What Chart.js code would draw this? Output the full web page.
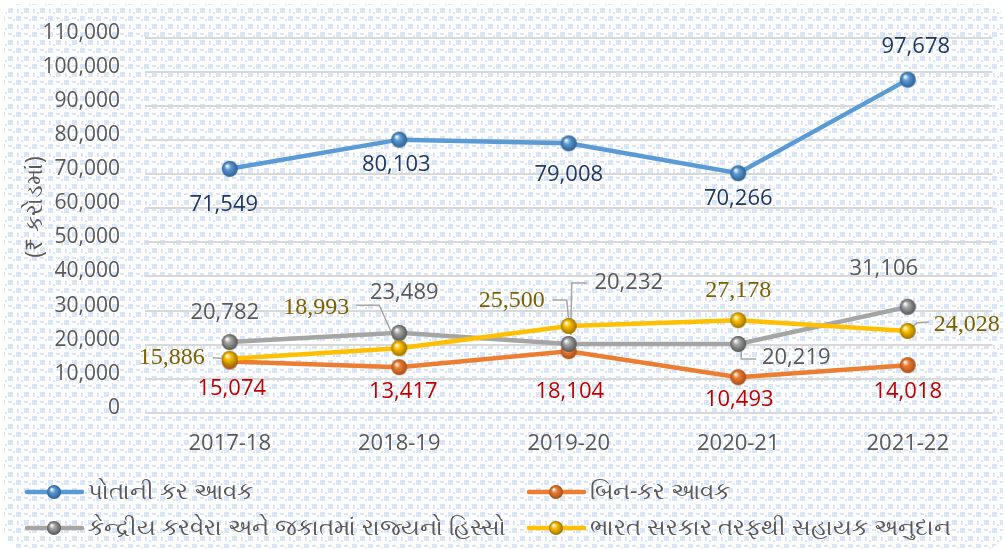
<!DOCTYPE html>
<html><head><meta charset="utf-8">
<script src="https://cdn.jsdelivr.net/npm/chart.js@4.4.0/dist/chart.umd.min.js"></script>
<style>html,body{margin:0;padding:0;background:#fff}#wrap{width:1005px;height:550px;position:relative}</style>
</head><body><div id="wrap"><canvas id="c" width="1005" height="550"></canvas></div>
<script>
const categories = ['2017-18', '2018-19', '2019-20', '2020-21', '2021-22'];
const ownTaxRevenue = [71549, 80103, 79008, 70266, 97678];
const nonTaxRevenue = [15074, 13417, 18104, 10493, 14018];
const centralTaxShare = [20782, 23489, 20232, 20219, 31106];
const centralGrants = [15886, 18993, 25500, 27178, 24028];
const seriesNames = ['પોતાની કર આવક', 'બિન-કર આવક', 'કેન્દ્રીય કરવેરા અને જકાતમાં રાજ્યનો હિસ્સો', 'ભારત સરકાર તરફથી સહાયક અનુદાન'];
const yMin = 0, yMax = 110000, yStep = 10000;
const yTitle = '(₹ કરોડમાં)';

const SANS = '"Open Sans", "Noto Sans", sans-serif';
const SERIF = '"Liberation Serif", "DejaVu Serif", serif';

function sphere(color, dark, r) {
  const s = r * 2 + 2;
  const c = document.createElement('canvas');
  c.width = c.height = s;
  const x = c.getContext('2d');
  const g = x.createRadialGradient(s / 2 - r * 0.35, s / 2 - r * 0.4, r * 0.05, s / 2, s / 2, r);
  g.addColorStop(0, '#ffffff');
  g.addColorStop(0.35, color);
  g.addColorStop(1, dark);
  x.fillStyle = g;
  x.beginPath(); x.arc(s / 2, s / 2, r, 0, Math.PI * 2); x.fill();
  return c;
}

const palette = [
  { line: '#5b9bd5', dark: '#2e5f8f', label: '#1f3864', font: SANS, size: 22 },
  { line: '#ed7d31', dark: '#a5501a', label: '#c00000', font: SANS, size: 22 },
  { line: '#a5a5a5', dark: '#555555', label: '#595959', font: SANS, size: 22 },
  { line: '#ffc000', dark: '#9a7300', label: '#7f6000', font: SERIF, size: 24 }
];
const seriesData = [ownTaxRevenue, nonTaxRevenue, centralTaxShare, centralGrants];
const drawOrder = [3, 2, 1, 0];

const datasets = seriesData.map((d, i) => ({
  label: seriesNames[i],
  data: d,
  borderColor: palette[i].line,
  backgroundColor: palette[i].line,
  borderWidth: 4.5,
  pointStyle: sphere(palette[i].line, palette[i].dark, 8),
  pointRadius: 8,
  tension: 0,
  order: drawOrder[i]
}));

// label placement (offsets from each point) and leader lines
const labelCfg = [
  { offsets: [[-6, 36], [-3, 25], [0, 31], [0, 26], [8, -33]], leaders: {} },
  { offsets: [[2, 27], [4, 25], [1, 41], [1, 23], [0, 27]], leaders: {} },
  { offsets: [[-5, -29], [5, -40], [60, -61], [58, 14], [-24, -38]],
    leaders: { 2: [[18, -61], [3, -61], [2, -9]], 3: [[3, 5], [3, 15], [18, 15]] } },
  { offsets: [[-58, -1], [-83, -40], [-57, -25], [0, -30], [59, -6]],
    leaders: { 0: [[-17, -1], [-4, 0]], 1: [[-43, -43], [-20, -43], [-3, -5]], 2: [[-16, -26], [-2, -26], [0, -5]], 4: [[2, -1], [9, -8], [21, -9]] } }
];

const backgroundPlugin = {
  id: 'bgPattern',
  beforeDraw(chart) {
    const ctx = chart.ctx;
    const t = document.createElement('canvas');
    t.width = 16; t.height = 16;
    const tc = t.getContext('2d');
    tc.fillStyle = '#ffffff'; tc.fillRect(0, 0, 16, 16);
    tc.fillStyle = '#dbe6f4';
    tc.fillRect(0, 0, 5, 5); tc.fillRect(8, 8, 5, 5);
    tc.fillRect(8, 1, 4, 2); tc.fillRect(1, 9, 2, 4);
    tc.fillRect(13, 3, 2, 2); tc.fillRect(5, 12, 2, 2);
    ctx.save();
    ctx.fillStyle = '#ffffff';
    ctx.fillRect(0, 0, chart.width, chart.height);
    ctx.fillStyle = ctx.createPattern(t, 'repeat');
    ctx.beginPath();
    ctx.roundRect(4, 4, chart.width - 6, chart.height - 6, 16);
    ctx.fill();
    ctx.restore();
  },
  afterDraw(chart) {
    const ctx = chart.ctx;
    ctx.save();
    ctx.translate(35, 207);
    ctx.rotate(-Math.PI / 2);
    ctx.font = '23px ' + SANS;
    ctx.fillStyle = '#595959';
    ctx.textAlign = 'center'; ctx.textBaseline = 'middle';
    ctx.fillText(yTitle, 0, 0);
    ctx.restore();
  }
};

const labelPlugin = {
  id: 'pointLabels',
  beforeDatasetsDraw(chart) {
    const ctx = chart.ctx;
    ctx.save();
    ctx.strokeStyle = '#a6a6a6';
    ctx.lineWidth = 1.5;
    chart.data.datasets.forEach((ds, di) => {
      const meta = chart.getDatasetMeta(di);
      const cfg = labelCfg[di];
      meta.data.forEach((pt, i) => {
        const ld = cfg.leaders[i];
        if (!ld) return;
        ctx.beginPath();
        ld.forEach((p, k) => k ? ctx.lineTo(pt.x + p[0], pt.y + p[1]) : ctx.moveTo(pt.x + p[0], pt.y + p[1]));
        ctx.stroke();
      });
    });
    ctx.restore();
  },
  afterDatasetsDraw(chart) {
    const ctx = chart.ctx;
    ctx.save();
    ctx.textAlign = 'center'; ctx.textBaseline = 'middle';
    chart.data.datasets.forEach((ds, di) => {
      const meta = chart.getDatasetMeta(di);
      const cfg = labelCfg[di];
      ctx.fillStyle = palette[di].label;
      ctx.font = palette[di].size + 'px ' + palette[di].font;
      meta.data.forEach((pt, i) => {
        ctx.fillText(ds.data[i].toLocaleString('en-US'), pt.x + cfg.offsets[i][0], pt.y + cfg.offsets[i][1]);
      });
    });
    ctx.restore();
  }
};

const legendPos = [[27, 492], [529, 492], [27, 528], [529, 528]];
const legendPlugin = {
  id: 'gridLegend',
  afterDraw(chart) {
    const ctx = chart.ctx;
    ctx.save();
    chart.data.datasets.forEach((ds, i) => {
      const [x, y] = legendPos[i];
      ctx.strokeStyle = palette[i].line;
      ctx.lineWidth = 4.5;
      ctx.lineCap = 'round';
      ctx.beginPath(); ctx.moveTo(x, y); ctx.lineTo(x + 55, y); ctx.stroke();
      const img = sphere(palette[i].line, palette[i].dark, 7);
      ctx.drawImage(img, x + 27 - img.width / 2, y - img.height / 2);
      ctx.fillStyle = '#595959';
      ctx.font = '23px ' + SANS;
      ctx.textAlign = 'left'; ctx.textBaseline = 'middle';
      ctx.fillText(ds.label, x + 61, y);
    });
    ctx.restore();
  }
};

new Chart(document.getElementById('c'), {
  type: 'line',
  data: { labels: categories, datasets },
  plugins: [backgroundPlugin, labelPlugin, legendPlugin],
  options: {
    responsive: false,
    animation: false,
    events: [],
    layout: { padding: { left: 0, right: 7, top: 36, bottom: 90 } },
    plugins: { legend: { display: false }, tooltip: { enabled: false } },
    scales: {
      x: {
        offset: true,
        grid: { display: false, drawTicks: false },
        border: { display: false },
        ticks: { color: '#595959', font: { family: SANS, size: 22 }, padding: 18 },
        afterFit(s) { s.height = 47; }
      },
      y: {
        min: yMin, max: yMax,
        grid: { color: '#d9d9d9', lineWidth: 2, drawTicks: false },
        border: { display: false },
        ticks: {
          stepSize: yStep, color: '#595959', padding: 25, labelOffset: -5,
          font: { family: SANS, size: 21 },
          callback: v => v.toLocaleString('en-US')
        },
        afterFit(s) { s.width = 145; }
      }
    }
  }
});
</script></body></html>
